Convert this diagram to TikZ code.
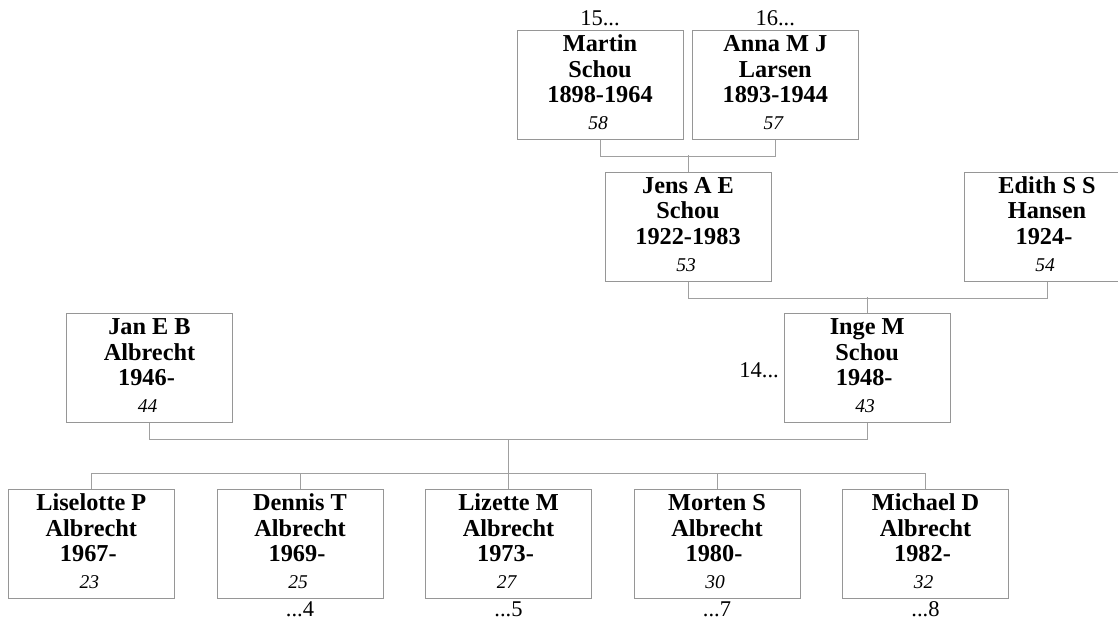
\documentclass[tikz,border=0pt]{standalone}
\usepackage{fontspec}
\setmainfont{Liberation Serif}
\usetikzlibrary{calc}
\definecolor{boxgray}{RGB}{150,150,150}
\definecolor{linegray}{RGB}{160,160,160}
\newcommand\famcard[4]{\parbox[c][109.4pt][t]{166pt}{\centering\fontsize{24.3}{25.7}\selectfont\bfseries\rule{0pt}{21pt}#1\\#2\\#3\\[1.3pt]{\fontsize{19.5}{20}\selectfont\mdseries\itshape #4\kern4pt}}}
\tikzset{
  card/.style={draw=boxgray, line width=1pt, inner sep=0pt, minimum width=166pt, minimum height=109.4pt},
  conn/.style={draw=linegray, line width=1pt},
  lbl/.style={font=\fontsize{22.5}{24}\selectfont, inner sep=0pt}
}
\begin{document}
\begin{tikzpicture}[x=1pt, y=-1pt]
\useasboundingbox (0,0) rectangle (1118,619);
% generation 1
\node[card] (martin) at (600,85.2) {\famcard{Martin}{Schou}{1898-1964}{58}};
\node[card] (anna) at (775.3,85.2) {\famcard{Anna M J}{Larsen}{1893-1944}{57}};
% generation 2
\node[card] (jens) at (688,226.8) {\famcard{Jens A E}{Schou}{1922-1983}{53}};
\node[card] (edith) at (1047,226.8) {\famcard{Edith S S}{Hansen}{1924-\kern6pt}{54}};
% generation 3
\node[card] (jan) at (149.5,368) {\famcard{Jan E B}{Albrecht}{1946-\kern6pt}{44}};
\node[card] (inge) at (867.2,368) {\famcard{Inge M}{Schou}{1948-\kern6pt}{43}};
% children
\node[card] (lis) at (91.3,544.2) {\famcard{Liselotte P}{Albrecht}{1967-\kern6pt}{23}};
\node[card] (den) at (300,544.2) {\famcard{Dennis T}{Albrecht}{1969-\kern6pt}{25}};
\node[card] (liz) at (508.5,544.2) {\famcard{Lizette M}{Albrecht}{1973-\kern6pt}{27}};
\node[card] (mor) at (717,544.2) {\famcard{Morten S}{Albrecht}{1980-\kern6pt}{30}};
\node[card] (mic) at (925.5,544.2) {\famcard{Michael D}{Albrecht}{1982-\kern6pt}{32}};
% reference labels
\node[lbl, anchor=base] (l15) at (600,25) {15...};
\node[lbl, anchor=base] (l16) at (775.3,25) {16...};
\node[lbl, anchor=base east] (l14) at (779,377.7) {14...};
\node[lbl, anchor=base] (l4) at (300,616) {...4};
\node[lbl, anchor=base] (l5) at (508.5,616) {...5};
\node[lbl, anchor=base] (l7) at (717,616) {...7};
\node[lbl, anchor=base] (l8) at (925.5,616) {...8};
% connectors
\draw[conn] (martin.south) -- ++(0,16) -| (anna.south);
\draw[conn] (jens.north) -- ++(0,-17);
\draw[conn] (jens.south) -- ++(0,16) -| (edith.south);
\draw[conn] (inge.north) -- ++(0,-16);
\draw[conn] (jan.south) -- ++(0,16) -| (inge.south);
\coordinate (famtop) at ($(jan.south)!0.5!(inge.south)+(0,16)$);
\draw[conn] (famtop) -- ($(famtop |- liz.north)+(0,-16)$);
\draw[conn] (lis.north) -- ++(0,-16) -| (mic.north);
\draw[conn] (den.north) -- ++(0,-16);
\draw[conn] (liz.north) -- ++(0,-16);
\draw[conn] (mor.north) -- ++(0,-16);
\end{tikzpicture}
\end{document}
